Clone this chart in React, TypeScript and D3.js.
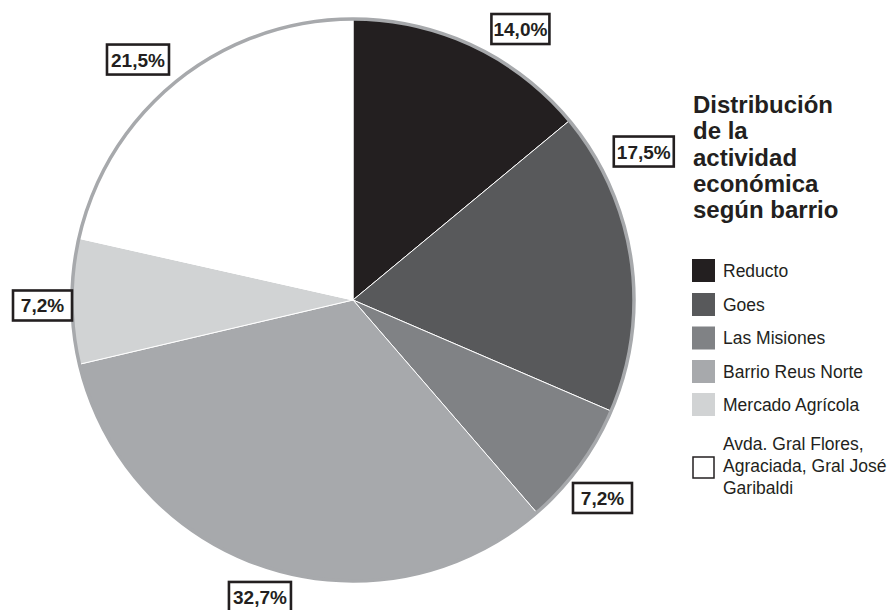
import React from "react";
import * as d3 from "d3";

const categories = [
  "Reducto",
  "Goes",
  "Las Misiones",
  "Barrio Reus Norte",
  "Mercado Agrícola",
  "Avda. Gral Flores, Agraciada, Gral José Garibaldi",
];
const values = [14.0, 17.5, 7.2, 32.7, 7.2, 21.5];
const valueLabels = ["14,0%", "17,5%", "7,2%", "32,7%", "7,2%", "21,5%"];
const legendLines = [
  ["Reducto"],
  ["Goes"],
  ["Las Misiones"],
  ["Barrio Reus Norte"],
  ["Mercado Agrícola"],
  ["Avda. Gral Flores,", "Agraciada, Gral José", "Garibaldi"],
];
const titleLines = ["Distribución", "de la", "actividad", "económica", "según barrio"];

// styling / layout
const colors = ["#231f20", "#58595b", "#808285", "#a7a9ac", "#d1d3d4", "#ffffff"];
const labelNudges: [number, number][] = [
  [33, 15],
  [-22, -103.5],
  [-5.4, 11.2],
  [4.5, -3.6],
  [5.5, 4],
  [-17.6, 6.3],
];
const labelBoxW = [58, 60, 59, 62, 59, 62];
const W = 891;
const H = 610;
const CX = 353;
const CY = 300;
const R = 281;
const LABEL_R = 316;
const FONT = "'Liberation Sans', Arial, Helvetica, sans-serif";

export default function App() {
  const pie = d3
    .pie<number>()
    .sort(null)
    .value((d) => d);
  const arcs = pie(values);
  const arc = d3.arc<d3.PieArcDatum<number>>().innerRadius(0).outerRadius(R);
  const labelArc = d3
    .arc<d3.PieArcDatum<number>>()
    .innerRadius(LABEL_R)
    .outerRadius(LABEL_R);

  const labelFont = 19;
  const legendRowY = [259, 293, 326.5, 360, 393, 456];
  const sw = 23;

  return (
    <svg
      width={W}
      height={H}
      style={{ position: "absolute", left: 0, top: 0, background: "#fff" }}
      fontFamily={FONT}
    >
      <g transform={`translate(${CX},${CY})`}>
        {arcs.map((a, i) => (
          <path
            key={categories[i]}
            d={arc(a) || ""}
            fill={colors[i]}
            stroke="#ffffff"
            strokeWidth={1}
          />
        ))}
        <circle r={R} fill="none" stroke="#a7a9ac" strokeWidth={3.5} />
        {arcs.map((a, i) => {
          const [x, y] = labelArc.centroid(a);
          const lx = x + labelNudges[i][0];
          const ly = y + labelNudges[i][1];
          const w = labelBoxW[i];
          const h = 30;
          return (
            <g key={"l" + i} transform={`translate(${lx},${ly})`}>
              <rect
                x={-w / 2}
                y={-h / 2}
                width={w}
                height={h}
                fill="#fff"
                stroke="#231f20"
                strokeWidth={2.6}
              />
              <text
                x={0}
                y={7}
                textAnchor="middle"
                fontWeight="bold"
                fontSize={labelFont}
                fill="#231f20"
              >
                {valueLabels[i]}
              </text>
            </g>
          );
        })}
      </g>
      <g>
        {titleLines.map((t, i) => (
          <text
            key={t}
            x={693}
            y={113 + i * 26.25}
            fontWeight="bold"
            fontSize={24}
            fill="#231f20"
          >
            {t}
          </text>
        ))}
      </g>
      <g>
        {categories.map((c, i) => {
          const y0 = legendRowY[i];
          const lines = legendLines[i];
          const isWhite = colors[i] === "#ffffff";
          const cy = y0 + sw / 2;
          const lineH = 22;
          const firstBase = cy + 6 - ((lines.length - 1) * lineH) / 2 - 2;
          return (
            <g key={c}>
              <rect
                x={isWhite ? 693 : 692}
                y={isWhite ? y0 + 1 : y0}
                width={isWhite ? sw - 2 : sw}
                height={isWhite ? sw - 2 : sw}
                fill={colors[i]}
                stroke={isWhite ? "#231f20" : "none"}
                strokeWidth={isWhite ? 1.5 : 0}
              />
              {lines.map((l, j) => (
                <text
                  key={l}
                  x={723}
                  y={(lines.length > 1 ? firstBase : cy + 6) + j * lineH}
                  fontSize={17.5}
                  fill="#231f20"
                >
                  {l}
                </text>
              ))}
            </g>
          );
        })}
      </g>
    </svg>
  );
}
